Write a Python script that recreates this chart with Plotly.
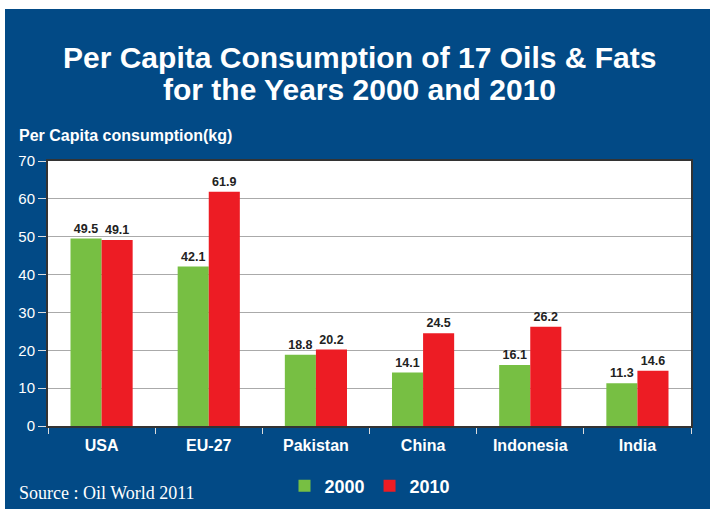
import plotly.graph_objects as go

countries = ["USA", "EU-27", "Pakistan", "China", "Indonesia", "India"]
years = ["2000", "2010"]
vals_2000 = [49.5, 42.1, 18.8, 14.1, 16.1, 11.3]
vals_2010 = [49.1, 61.9, 20.2, 24.5, 26.2, 14.6]
y_ticks = [0, 10, 20, 30, 40, 50, 60, 70]

GREEN = "#77bf43"
RED = "#ed1c24"
BLUE = "#024a86"
NARROW = "Liberation Sans Narrow, Arial Narrow, Liberation Sans, Arial"

W, H = 710, 509
L, R, T, B = 48, 691, 161, 426
pw, ph = R - L, B - T


def px(x):
    return (x - L) / pw


def py(y):
    return (B - y) / ph


fig = go.Figure()
for name, vals, col in [(years[0], vals_2000, GREEN), (years[1], vals_2010, RED)]:
    fig.add_trace(go.Bar(
        x=countries, y=vals, name=name, marker=dict(color=col, line=dict(width=0)),
        text=[f"{v:.1f}" for v in vals], textposition="outside",
        textfont=dict(family=NARROW, size=12.5, color="#222222", weight="bold"),
        cliponaxis=False,
    ))

title_font = dict(family="Liberation Sans, Arial", size=30, color="white", weight="bold")
fig.update_layout(
    width=W, height=H,
    margin=dict(l=L, r=W - R, t=T, b=H - B, autoexpand=False),
    paper_bgcolor=BLUE, plot_bgcolor="white",
    barmode="group", bargap=0.42, bargroupgap=0,
    showlegend=True,
    legend=dict(orientation="h", x=px(370), y=py(486), xanchor="center", yanchor="middle",
                font=dict(family=NARROW, size=18, color="white", weight="bold"),
                bgcolor="rgba(0,0,0,0)", itemwidth=30, traceorder="normal"),
    shapes=[
        dict(type="rect", xref="paper", yref="paper", x0=px(0), x1=px(W), y0=py(0), y1=py(9),
             fillcolor="white", line=dict(width=0), layer="below"),
        dict(type="rect", xref="paper", yref="paper", x0=px(0), x1=px(5), y0=py(0), y1=py(H),
             fillcolor="white", line=dict(width=0), layer="below"),
    ],
    annotations=[
        dict(text="Per Capita Consumption of 17 Oils &amp; Fats",
             xref="paper", yref="paper", x=px(359), y=py(57), xanchor="center", yanchor="middle",
             showarrow=False, font=title_font),
        dict(text="for the Years 2000 and 2010",
             xref="paper", yref="paper", x=px(359), y=py(89), xanchor="center", yanchor="middle",
             showarrow=False, font=title_font),
        dict(text="Per Capita consumption(kg)", xref="paper", yref="paper",
             x=px(17), y=py(135), xanchor="left", yanchor="middle", showarrow=False,
             font=dict(family=NARROW, size=16, color="white", weight="bold")),
        dict(text="Source : Oil World 2011", xref="paper", yref="paper",
             x=px(17), y=py(493), xanchor="left", yanchor="middle", showarrow=False,
             font=dict(family="Liberation Serif, Times New Roman", size=18, color="white")),
    ],
)
fig.update_xaxes(
    type="category", tickson="boundaries", ticks="outside", ticklen=6, tickcolor="#dddddd",
    tickfont=dict(family=NARROW, size=16, color="white", weight="bold"),
    ticklabelstandoff=4,
    showline=True, linecolor="#333333", linewidth=2, mirror=True, showgrid=False,
)
fig.update_yaxes(
    range=[0, 70], tickvals=y_ticks, ticks="outside", ticklen=8, tickcolor="#dddddd",
    tickfont=dict(family="Liberation Sans, Arial", size=15, color="white"),
    showline=True, linecolor="#333333", linewidth=2, mirror=True,
    showgrid=True, gridcolor="#aaaaaa", gridwidth=1, zeroline=False,
)
fig.write_html("out.html")
